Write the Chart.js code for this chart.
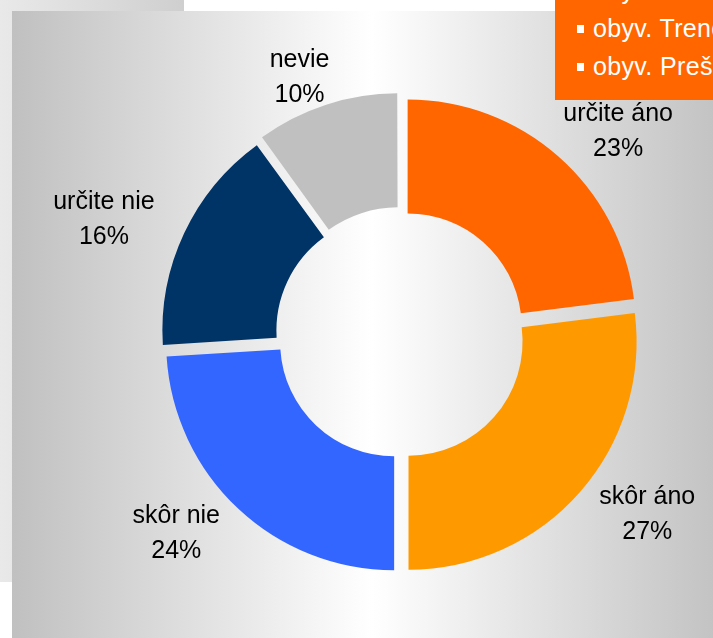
<!DOCTYPE html>
<html>
<head>
<meta charset="utf-8">
<script src="https://cdn.jsdelivr.net/npm/chart.js@4.4.1/dist/chart.umd.min.js"></script>
<style>
    html, body { margin: 0; padding: 0; background: #fff; overflow: hidden; }
    #page { position: relative; width: 713px; height: 638px; overflow: hidden; }
    #backPanel { position: absolute; left: 0; top: 0; width: 184px; height: 582px; background: linear-gradient(to right, #e9e9e9, #cfcfcf); }
    #panel { position: absolute; left: 12px; top: 11px; width: 720px; height: 640px; background: linear-gradient(to right, #c0c0c0, #ffffff 50%, #c0c0c0); }
    #myChart { position: absolute; left: 0; top: 0; }
    #legendBox { position: absolute; left: 555px; top: 0; width: 158px; height: 100px; background: #ff6600; overflow: hidden; font: 25px "Liberation Sans", Arial, sans-serif; letter-spacing: 0.35px; color: #fff; }
    .legend-item { position: absolute; left: 38px; white-space: nowrap; line-height: 38px; }
    .legend-item span { position: absolute; left: -16px; top: 16px; width: 7px; height: 8px; background: #fff; }
</style>
</head>
<body>
<div id="page">
    <div id="backPanel"></div>
    <div id="panel"></div>
    <canvas id="myChart" width="713" height="638"></canvas>
    <div id="legendBox"></div>
</div>
<script>
// Data
const categories = ['určite áno', 'skôr áno', 'skôr nie', 'určite nie', 'nevie'];
const shares = [23, 27, 24, 16, 10];
const sliceColors = ['#ff6600', '#ff9900', '#3366ff', '#003366', '#c0c0c0'];
const legendLabels = ['obyv. Slovenska', 'obyv. Trenčína', 'obyv. Prešova'];

// Legend box (cut off by the frame, like in the original)
const legendBox = document.getElementById('legendBox');
legendLabels.forEach(function(text, i) {
    const item = document.createElement('div');
    item.className = 'legend-item';
    item.style.top = (-29 + i * 38) + 'px';
    item.innerHTML = '<span></span>' + text;
    legendBox.appendChild(item);
});

// Labels outside the slices
const sliceLabels = {
    id: 'sliceLabels',
    afterDatasetsDraw(chart) {
        const ctx = chart.ctx;
        const meta = chart.getDatasetMeta(0);
        ctx.save();
        ctx.font = '25px "Liberation Sans", Arial, sans-serif';
        ctx.fillStyle = '#000';
        ctx.textAlign = 'center';
        ctx.textBaseline = 'middle';
        meta.data.forEach(function(arc, i) {
            const p = arc.getProps(['x', 'y', 'startAngle', 'endAngle', 'outerRadius'], true);
            const mid = (p.startAngle + p.endAngle) / 2;
            const lx = p.x + Math.cos(mid) * p.outerRadius * 1.44;
            const ly = p.y + Math.sin(mid) * p.outerRadius * 1.19;
            ctx.fillText(categories[i], lx, ly - 17);
            ctx.fillText(shares[i] + '%', lx, ly + 18);
        });
        ctx.restore();
    }
};

const ctx = document.getElementById('myChart').getContext('2d');
new Chart(ctx, {
    type: 'doughnut',
    data: {
        labels: categories,
        datasets: [{
            data: shares,
            backgroundColor: sliceColors,
            borderWidth: 0,
            offset: 40
        }]
    },
    options: {
        responsive: false,
        animation: false,
        devicePixelRatio: 1,
        cutout: '50%',
        layout: { padding: { left: 153, right: 64, top: 87, bottom: 55 } },
        plugins: {
            legend: { display: false },
            tooltip: { enabled: false }
        }
    },
    plugins: [sliceLabels]
});
</script>
</body>
</html>
